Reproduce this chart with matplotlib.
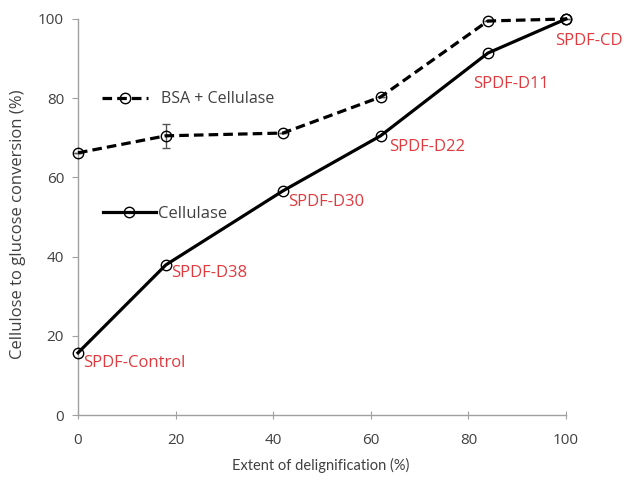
import matplotlib
matplotlib.use("Agg")
import matplotlib.pyplot as plt
from matplotlib.lines import Line2D

plt.rcParams['font.family'] = ['Open Sans', 'DejaVu Sans']

# Extent of delignification (%) and cellulose-to-glucose conversion (%)
x_cellulase = [0, 18, 42, 62, 84, 100]
y_cellulase = [15.7, 37.9, 56.6, 70.5, 91.4, 100]
x_bsa = [0, 18, 42, 62, 84, 100]
y_bsa = [66.2, 70.5, 71.2, 80.3, 99.5, 100]
err_bsa = [0, 3.0, 0, 0, 0, 0]
sample_labels = ["SPDF-Control", "SPDF-D38", "SPDF-D30", "SPDF-D22", "SPDF-D11", "SPDF-CD"]
x_ticks = [0, 20, 40, 60, 80, 100]
y_ticks = [0, 20, 40, 60, 80, 100]

fig = plt.figure(figsize=(6.27, 4.92), dpi=100)
ax = fig.add_axes([0.1244, 0.1565, 0.7783, 0.8049])

mk = dict(marker='o', markersize=7.5, markerfacecolor='none', markeredgewidth=1.0)

ax.errorbar(x_bsa, y_bsa, yerr=err_bsa, color='black', linestyle=(0, (3, 1.6)),
            linewidth=2.3, ecolor='#555555', elinewidth=1.0, capsize=3,
            clip_on=False, zorder=3, **mk)
ax.plot(x_cellulase, y_cellulase, color='black', linestyle='-', linewidth=2.3,
        clip_on=False, zorder=3, **mk)

# sample names next to the solid-line points (offsets in points)
offsets = [(4, -7), (4, -6), (4, -8), (6, -8), (-11, -22), (-8, -16)]
for xv, yv, lab, (dx, dy) in zip(x_cellulase, y_cellulase, sample_labels, offsets):
    ax.annotate(lab, (xv, yv), xytext=(dx, dy), textcoords='offset points',
                ha='left', va='center', color='#e0393e', fontsize=12)

ax.set_xlim(0, 100)
ax.set_ylim(0, 100)
ax.set_xticks(x_ticks)
ax.set_yticks(y_ticks)
for s in ['top', 'right']:
    ax.spines[s].set_visible(False)
for s in ['left', 'bottom']:
    ax.spines[s].set_color('#a0a0a0')
    ax.spines[s].set_linewidth(1.0)
ax.tick_params(axis='y', direction='out', length=4, color='#a0a0a0',
               labelsize=11, labelcolor='#404040', pad=6)
ax.tick_params(axis='x', direction='inout', length=6, color='#a0a0a0',
               labelsize=11, labelcolor='#404040', pad=10)

ax.set_xlabel("Extent of delignification (%)", fontsize=10.5, color='#404040',
              family=['Lato', 'DejaVu Sans'])
ax.set_ylabel("Cellulose to glucose conversion (%)", fontsize=12, color='#404040')
ax.xaxis.set_label_coords(0.498, -0.108)
ax.yaxis.set_label_coords(-0.123, 0.482)
ax.yaxis.label.set_va('center')

h_bsa = Line2D([], [], color='black', linestyle=(0, (3, 1.6)), linewidth=2.3, **mk)
h_cel = Line2D([], [], color='black', linestyle='-', linewidth=2.3, **mk)
leg1 = ax.legend([h_bsa], ["BSA + Cellulase"], loc='center left',
                 bbox_to_anchor=(0.02, 0.797), frameon=False, fontsize=11.5,
                 handlelength=2.9, handletextpad=0.8, labelcolor='#404040')
ax.add_artist(leg1)
ax.legend([h_cel], ["Cellulase"], loc='center left',
          bbox_to_anchor=(0.02, 0.507), frameon=False, fontsize=12,
          handlelength=3.2, handletextpad=0.1, labelcolor='#404040')

fig.savefig("out.png", dpi=100)
